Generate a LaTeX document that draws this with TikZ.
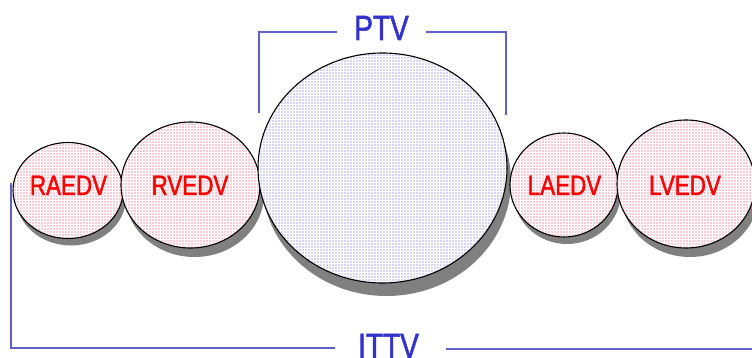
\documentclass[tikz,border=0pt]{standalone}
\usepackage{fontspec}
\newfontfamily\labelfont{Liberation Sans}[FakeStretch=0.8, FakeBold=1.6]
\usetikzlibrary{shapes.geometric,patterns.meta}

\definecolor{chamberred}{RGB}{255,0,0}
\definecolor{dotred}{RGB}{250,40,80}
\definecolor{dotblue}{RGB}{80,80,220}
\definecolor{bracketblue}{RGB}{95,95,205}
\definecolor{labelblue}{RGB}{51,51,204}
\definecolor{shadowgray}{RGB}{128,128,128}

\tikzset{
  chamber/.style={ellipse, draw=black, line width=1.1pt, inner sep=0pt,
    preaction={fill=white},
    pattern={Dots[distance=3pt, radius=0.55pt]}, pattern color=#1},
  blob/.style={ellipse, fill=shadowgray, inner sep=0pt},
  chamberlabel/.style={anchor=base, inner sep=0pt, text=chamberred,
    font=\labelfont\fontsize{28}{28}\selectfont},
  volumelabel/.style={anchor=base, inner sep=0pt, text=labelblue,
    font=\labelfont\fontsize{35}{35}\selectfont},
  bracket/.style={draw=bracketblue, line width=1.3pt}
}

\begin{document}
\begin{tikzpicture}[x=1pt, y=-1pt]
  \useasboundingbox (0,0) rectangle (752,358);
  \clip (0,0) rectangle (752,358);

  % volume brackets
  \coordinate (ptv-l) at (259,113);
  \coordinate (ptv-r) at (506,115);
  \coordinate (ptv-gl) at (337,32);
  \coordinate (ptv-gr) at (426,32);
  \draw[bracket] (ptv-l) |- (ptv-gl);
  \draw[bracket] (ptv-r) |- (ptv-gr);

  \coordinate (ittv-l) at (11,183);
  \coordinate (ittv-gl) at (335,348);
  \coordinate (ittv-gr) at (446,349);
  \coordinate (ittv-r) at (760,349);
  \draw[bracket] (ittv-l) |- (ittv-gl);
  \draw[bracket] (ittv-gr) -- (ittv-r);

  \node[volumelabel] (ptv) at (381.5,40) {PTV};
  \node[volumelabel] (ittv) at (388.5,358) {ITTV};

  % chambers, each with its drop shadow
  \node[blob, minimum width=110, minimum height=96] (ra-s) at (71,197.5) {};
  \node[chamber=dotred, minimum width=110, minimum height=96] (ra) at (68,190.5) {};

  \node[blob, minimum width=139, minimum height=126] (rv-s) at (194.5,194) {};
  \node[chamber=dotred, minimum width=139, minimum height=126] (rv) at (190.5,185) {};

  \node[blob, minimum width=249, minimum height=230] (pt-s) at (386.5,181) {};
  \node[chamber=dotblue, minimum width=249, minimum height=230] (pt) at (382.5,168) {};

  \node[blob, minimum width=108, minimum height=104] (la-s) at (567,192) {};
  \node[chamber=dotred, minimum width=108, minimum height=104] (la) at (564,185) {};

  \node[blob, minimum width=138, minimum height=128] (lv-s) at (690,193) {};
  \node[chamber=dotred, minimum width=138, minimum height=128] (lv) at (686,184) {};

  % chamber names
  \node[chamberlabel] (ra-t) at (68.5,195) {RAEDV};
  \node[chamberlabel] (rv-t) at (190,195) {RVEDV};
  \node[chamberlabel] (la-t) at (564.5,195) {LAEDV};
  \node[chamberlabel] (lv-t) at (685,195) {LVEDV};
\end{tikzpicture}
\end{document}
